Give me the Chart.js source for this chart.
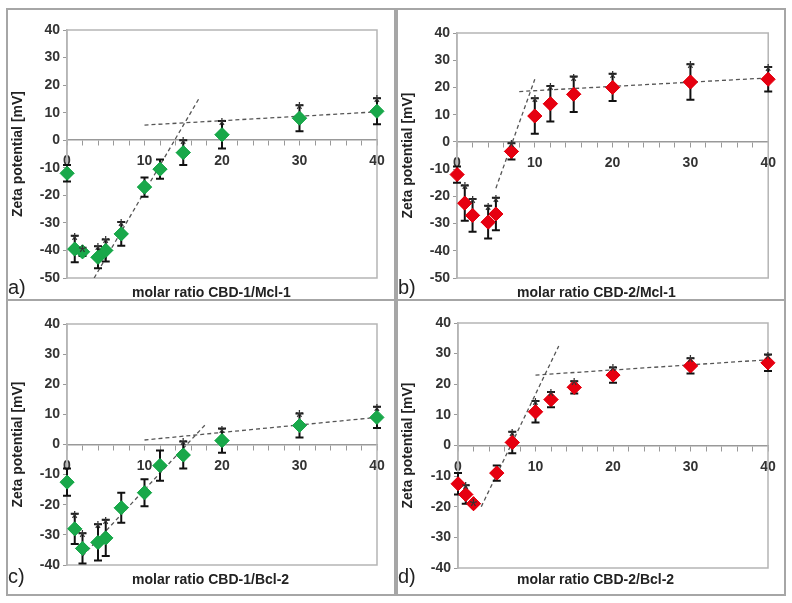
<!DOCTYPE html>
<html><head><meta charset="utf-8">
<script src="https://cdn.jsdelivr.net/npm/chart.js@4"></script>
<style>
body{margin:0;background:#fff;width:792px;height:603px;position:relative;overflow:hidden;font-family:"Liberation Sans",Arial,sans-serif}
.panel{position:absolute;border:2px solid #a6a6a6;box-sizing:border-box}
canvas{position:absolute}
.lbl{position:absolute;font-weight:bold;font-size:14px;color:#222;white-space:nowrap}
.let{position:absolute;font-size:20px;color:#222}
</style></head><body>
<div class="panel" style="left:6px;top:8px;width:390px;height:293px"></div>
<div class="panel" style="left:396px;top:8px;width:390px;height:293px"></div>
<div class="panel" style="left:6px;top:299px;width:390px;height:297px"></div>
<div class="panel" style="left:396px;top:299px;width:390px;height:297px"></div>
<canvas id="ca"></canvas><canvas id="cb"></canvas><canvas id="cc"></canvas><canvas id="cd"></canvas>
<div class="lbl" style="left:132px;top:284px">molar ratio CBD-1/Mcl-1</div>
<div class="lbl" style="left:517px;top:284px">molar ratio CBD-2/Mcl-1</div>
<div class="lbl" style="left:132px;top:571px">molar ratio CBD-1/Bcl-2</div>
<div class="lbl" style="left:517px;top:571px">molar ratio CBD-2/Bcl-2</div>
<div class="let" style="left:8px;top:276px">a)</div>
<div class="let" style="left:398px;top:276px">b)</div>
<div class="let" style="left:8px;top:565px">c)</div>
<div class="let" style="left:398px;top:565px">d)</div>
<script>
// ---- data ----
const xA = [0,1,2,4,5,7,10,12,15,20,30,40];
const yA = [-12,-39.5,-40.5,-42.5,-40,-34,-17,-10.5,-4.5,2,8,10.5];
const eA = [3,4.8,1.5,4,4,4.3,3.5,3.5,4.5,5,4.7,4.7];
const sA = [0,1,1,1,1,1,0,0,1,1,1,1];
const tA1x = [3.5,17], tA1y = [-50,15];
const tA2x = [10,40], tA2y = [5.5,10.3];

const xB = [0,1,2,4,5,7,10,12,15,20,30,40];
const yB = [-12,-22.5,-27,-29.5,-26.5,-3.5,9.5,14,17.5,20,22,23];
const eB = [3,6.5,6,6,6,3,6.5,6.5,6.5,5,6.5,4.5];
const sB = [0,1,1,1,1,1,1,1,1,1,1,1];
const tB1x = [5,10], tB1y = [-17,23];
const tB2x = [8,40], tB2y = [18.5,23.5];

const xC = [0,1,2,4,5,7,10,12,15,20,30,40];
const yC = [-12.5,-28,-34.5,-32.5,-31,-21,-16,-7,-3.5,1.3,6.3,9];
const eC = [4.5,5,5,6,6,5,4.5,5,4.5,4,4,3.5];
const sC = [0,1,1,1,1,0,0,0,1,1,1,1];
const tC1x = [2,18], tC1y = [-37,7];
const tC2x = [10,40], tC2y = [1.5,9];

const xD = [0,1,2,5,7,10,12,15,20,30,40];
const yD = [-12.5,-16,-19,-9,1,11,15,19,23,26,27];
const eD = [3.5,3,0.5,2.5,3.5,3.5,2.5,2,2.5,2.5,2.7];
const sD = [0,1,1,0,1,1,1,1,1,1,1];
const tD1x = [3,13], tD1y = [-20,32.5];
const tD2x = [10,40], tD2y = [23,28];

const xTicks = [0,10,20,30,40];

const pts = (xs,ys)=>xs.map((x,i)=>({x,y:ys[i]}));
const extras = {
  id:'extras',
  beforeDatasetsDraw(ch){
    const a=ch.chartArea,c=ch.ctx;
    c.save();c.strokeStyle='#b5b5b5';c.lineWidth=1.5;c.strokeRect(a.left,a.top,a.right-a.left,a.bottom-a.top);c.restore();
  },
  afterDatasetsDraw(ch){
    const o=ch.options.plugins.extras, c=ch.ctx, xs=ch.scales.x, ys=ch.scales.y;
    c.save();c.strokeStyle='#111';c.lineWidth=2;
    o.x.forEach((x,i)=>{
      const px=xs.getPixelForValue(x), t=ys.getPixelForValue(o.y[i]+o.e[i]), b=ys.getPixelForValue(o.y[i]-o.e[i]);
      c.beginPath();c.moveTo(px,t);c.lineTo(px,b);c.moveTo(px-4,t);c.lineTo(px+4,t);c.moveTo(px-4,b);c.lineTo(px+4,b);c.stroke();
    });
    ch.getDatasetMeta(2).data.forEach(el=>el.draw(c));
    c.fillStyle='#333';c.font='20px "Liberation Sans",Arial';c.textAlign='center';c.textBaseline='alphabetic';
    o.x.forEach((x,i)=>{ if(!o.s[i])return;
      const px=xs.getPixelForValue(x), t=ys.getPixelForValue(o.y[i]+o.e[i]);
      c.fillText('*',px,t+11);
    });
    c.restore();
  }
};
function panel(id,left,top,w,h,plot,xs,ys,es,ss,t1x,t1y,t2x,t2y,col,ymin){
  const cv=document.getElementById(id);
  cv.width=w;cv.height=h;
  cv.style.left=left+'px';cv.style.top=top+'px';cv.style.width=w+'px';cv.style.height=h+'px';
  const yw=plot.l-left;
  new Chart(cv,{type:'scatter',
    data:{datasets:[
      {data:pts(t1x,t1y),showLine:true,borderColor:'#555',borderWidth:1.3,borderDash:[4,3],pointRadius:0},
      {data:pts(t2x,t2y),showLine:true,borderColor:'#555',borderWidth:1.3,borderDash:[4,3],pointRadius:0},
      {data:pts(xs,ys),pointStyle:'rectRot',pointRadius:7,pointHoverRadius:7,backgroundColor:col,borderColor:col}
    ]},
    options:{responsive:false,animation:false,devicePixelRatio:1,
      layout:{padding:{left:0,top:plot.t-top,right:left+w-plot.r,bottom:top+h-plot.b}},
      plugins:{legend:{display:false},tooltip:{enabled:false},extras:{x:xs,y:ys,e:es,s:ss}},
      scales:{
        x:{type:'linear',position:{y:0},min:0,max:40,
          afterBuildTicks:s=>{s.ticks=[];for(let v=0;v<=40;v+=2)s.ticks.push({value:v});},
          grid:{drawOnChartArea:false,drawTicks:true,tickLength:5,color:'#999'},
          border:{color:'#999',width:1.5},
          ticks:{autoSkip:false,maxRotation:0,padding:8,color:'#333',font:{family:'"Liberation Sans",Arial',size:14,weight:'bold'},
            callback:v=>xTicks.includes(v)?String(v):''}},
        y:{min:ymin,max:40,afterFit:s=>{s.width=yw;},
          grid:{drawOnChartArea:false,tickLength:4,color:'#999'},border:{color:'#b5b5b5',width:1.5},
          ticks:{stepSize:10,color:'#333',padding:3,font:{family:'"Liberation Sans",Arial',size:14,weight:'bold'}},
          title:{display:true,text:'Zeta potential [mV]',color:'#222',padding:2,font:{family:'"Liberation Sans",Arial',size:14,weight:'bold'}}}
      }},
    plugins:[extras]});
}
panel('ca',8,10,386,288,{l:67,t:30,r:377,b:278},xA,yA,eA,sA,tA1x,tA1y,tA2x,tA2y,'#19a84a',-50);
panel('cb',398,10,386,288,{l:457,t:33,r:769,b:278},xB,yB,eB,sB,tB1x,tB1y,tB2x,tB2y,'#e60010',-50);
panel('cc',8,301,386,292,{l:67,t:324,r:377,b:565},xC,yC,eC,sC,tC1x,tC1y,tC2x,tC2y,'#19a84a',-40);
panel('cd',398,301,386,292,{l:458,t:323,r:768,b:568},xD,yD,eD,sD,tD1x,tD1y,tD2x,tD2y,'#e60010',-40);
</script></body></html>
